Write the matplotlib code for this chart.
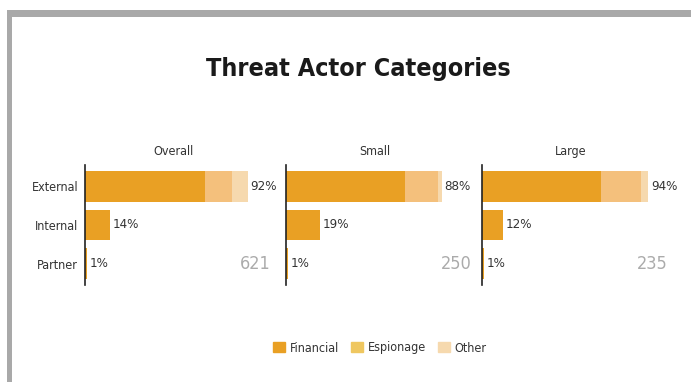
import numpy as np
import matplotlib.pyplot as plt
from matplotlib.patches import Rectangle

# data
panels = ['Overall', 'Small', 'Large']
actors = ['External', 'Internal', 'Partner']
totals = [92, 14, 1], [88, 19, 1], [94, 12, 1]
financial = [[68, 14, 1], [67, 19, 1], [67, 12, 1]]
espionage = [[15, 0, 0], [19, 0, 0], [23, 0, 0]]
other = [[9, 0, 0], [2, 0, 0], [4, 0, 0]]
counts = ['621', '250', '235']

c_fin = '#E9A024'
c_esp = '#F4C07C'
c_oth = '#F6D9AE'
text_c = '#333333'
narrow = dict(family='DejaVu Sans', stretch='condensed')

W, H = 691, 382
fig = plt.figure(figsize=(W / 100, H / 100), dpi=100)
fig.patch.set_facecolor('white')

# grey frame of the screenshot
fig.add_artist(Rectangle((8 / W, 1 - 17 / H), 1, 7 / H, transform=fig.transFigure,
                         facecolor='#A9A9A9', edgecolor='none'))
fig.add_artist(Rectangle((7 / W, 0), 5 / W, 1 - 10 / H, transform=fig.transFigure,
                         facecolor='#A9A9A9', edgecolor='none'))

fig.text(358 / W, 1 - 69 / H, 'Threat Actor Categories', ha='center', va='center',
         fontsize=18, fontweight='bold', color='#1a1a1a', **narrow)

lefts = [85, 286, 482]
top, bottom, width = 165, 285, 177
y = np.arange(len(actors))

for k, name in enumerate(panels):
    ax = fig.add_axes([lefts[k] / W, 1 - bottom / H, width / W, (bottom - top) / H])
    f = np.array(financial[k])
    e = np.array(espionage[k])
    o = np.array(other[k])
    ax.barh(y, f, height=0.8, color=c_fin)
    ax.barh(y, e, left=f, height=0.8, color=c_esp)
    ax.barh(y, o, left=f + e, height=0.8, color=c_oth)
    ax.set_xlim(0, 100)
    ax.set_ylim(2.55, -0.55)
    for s in ['top', 'right', 'bottom']:
        ax.spines[s].set_visible(False)
    ax.spines['left'].set_color('#222222')
    ax.spines['left'].set_linewidth(1.2)
    ax.set_xticks([])
    ax.set_yticks(y)
    if k == 0:
        ax.set_yticklabels(actors, fontsize=9, color=text_c, **narrow)
    else:
        ax.set_yticklabels([])
    ax.tick_params(axis='y', length=0, pad=5)
    for i, v in enumerate(totals[k]):
        ax.text(v + 1.5, i, f'{v}%', va='center', ha='left',
                fontsize=9.5, color=text_c, **narrow)
    ax.text(105, 2, counts[k], va='center', ha='right',
            fontsize=13, color='#ABABAB', fontweight='light', **narrow)
    ax.set_title(name, fontsize=9, color=text_c, pad=7, **narrow)
    ax.patch.set_alpha(0)

handles = [Rectangle((0, 0), 1, 1, color=c) for c in [c_fin, '#EFC760', c_oth]]
fig.legend(handles, ['Financial', 'Espionage', 'Other'], loc='center',
           bbox_to_anchor=(380 / W, 1 - 348 / H), ncol=3, frameon=False,
           prop=dict(size=9, **narrow), handlelength=0.9, handleheight=0.9,
           handletextpad=0.4, columnspacing=1.0, labelcolor=text_c)

fig.savefig('out.png', dpi=100, facecolor='white')
